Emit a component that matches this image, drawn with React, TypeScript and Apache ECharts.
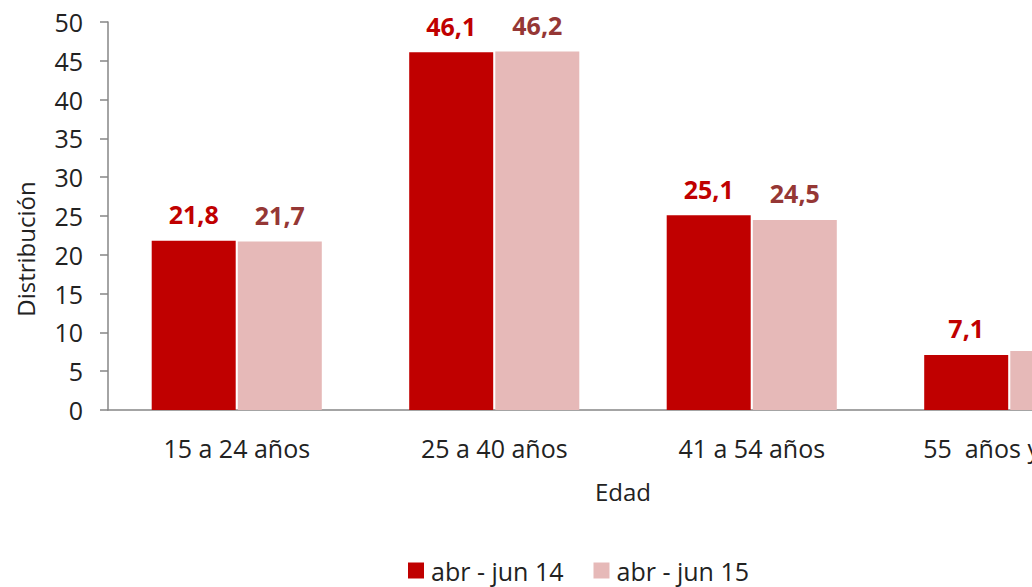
import React, { useEffect, useRef } from "react";
import * as echarts from "echarts";

const categories = ["15 a 24 años", "25 a 40 años", "41 a 54 años", "55  años y más"];
const seriesNames = ["abr - jun 14", "abr - jun 15"];
const values14 = [21.8, 46.1, 25.1, 7.1];
const values15 = [21.7, 46.2, 24.5, 7.6];
const yTicks = { min: 0, max: 50, interval: 5 };

const FONT = "'Open Sans', 'Noto Sans', sans-serif";
const fmt = (v: number) => v.toFixed(1).replace(".", ",");

export default function App() {
  const ref = useRef<HTMLDivElement>(null);
  useEffect(() => {
    if (!ref.current) return;
    const chart = echarts.init(ref.current, undefined, { renderer: "svg" });
    chart.setOption({
      animation: false,
      textStyle: { fontFamily: FONT },
      grid: { left: 108, top: 22, width: 1030, height: 388, containLabel: false },
      legend: {
        data: seriesNames,
        left: 403,
        top: 553,
        itemWidth: 16,
        itemHeight: 16,
        itemGap: 30,
        icon: "rect",
        textStyle: { fontSize: 25, color: "#222", fontFamily: FONT, padding: [0, 0, 0, 2] },
      },
      graphic: [
        {
          type: "text",
          x: 25,
          y: 249,
          rotation: Math.PI / 2,
          style: {
            text: "Distribución",
            fontSize: 24,
            fontFamily: FONT,
            fill: "#222",
            align: "center",
            verticalAlign: "middle",
          },
        },
      ],
      xAxis: {
        type: "category",
        data: categories,
        name: "Edad",
        nameLocation: "middle",
        nameGap: 69,
        nameTextStyle: { fontSize: 24, color: "#222", fontFamily: FONT },
        axisLine: { lineStyle: { color: "#868686", width: 1.5 } },
        axisTick: { show: false },
        axisLabel: { fontSize: 25, color: "#222", margin: 25, fontFamily: FONT },
      },
      yAxis: {
        type: "value",
        min: yTicks.min,
        max: yTicks.max,
        interval: yTicks.interval,
        axisLine: { show: true, lineStyle: { color: "#868686", width: 1.5 } },
        axisTick: { show: true, length: 8, lineStyle: { color: "#868686", width: 1.5 } },
        splitLine: { show: false },
        axisLabel: { fontSize: 25, color: "#222", margin: 25, fontFamily: FONT },
      },
      series: [
        {
          name: seriesNames[0],
          type: "bar",
          data: values14,
          barWidth: 84,
          barGap: "2.5%",
          itemStyle: { color: "#C00000" },
          label: {
            show: true,
            position: "top",
            distance: 14,
            formatter: (p: any) => fmt(p.value),
            fontSize: 25,
            fontWeight: "bold",
            color: "#C00000",
            fontFamily: FONT,
          },
        },
        {
          name: seriesNames[1],
          type: "bar",
          data: values15,
          barWidth: 84,
          barGap: "2.5%",
          itemStyle: { color: "#E6B9B8" },
          label: {
            show: true,
            position: "top",
            distance: 14,
            formatter: (p: any) => fmt(p.value),
            fontSize: 25,
            fontWeight: "bold",
            color: "#953735",
            fontFamily: FONT,
          },
        },
      ],
    });
    return () => chart.dispose();
  }, []);
  return (
    <div
      style={{
        position: "fixed",
        left: 0,
        top: 0,
        width: 1032,
        height: 587,
        overflow: "hidden",
        background: "#fff",
      }}
    >
      <div ref={ref} style={{ width: 1180, height: 587 }} />
    </div>
  );
}
